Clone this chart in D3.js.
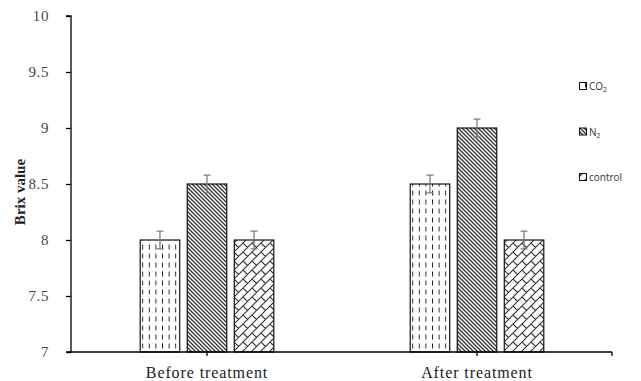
<!DOCTYPE html>
<html>
<head>
<meta charset="utf-8">
<script src="https://cdn.jsdelivr.net/npm/d3@7"></script>
<style>
  html, body { margin: 0; padding: 0; background: #fff; }
  svg { display: block; }
</style>
</head>
<body>
<svg id="chart" width="641" height="381"></svg>
<script>
// Brix value before and after treatment, by storage atmosphere
const categories = ["Before treatment", "After treatment"];
const seriesNames = ["CO2", "N2", "control"];
const seriesLabels = [["CO", "2"], ["N", "2"], ["control", ""]];
const co2Values = [8.0, 8.5];
const n2Values = [8.5, 9.0];
const controlValues = [8.0, 8.0];
const errorValues = [0.08, 0.08, 0.08];
const yTicks = [7, 7.5, 8, 8.5, 9, 9.5, 10];

const seriesValues = [co2Values, n2Values, controlValues];

const svg = d3.select("#chart");
const defs = svg.append("defs");

// Fill patterns: dashed verticals, dense diagonals, shingles
const pDash = defs.append("pattern").attr("id", "pat-co2")
  .attr("patternUnits", "userSpaceOnUse").attr("width", 6.6).attr("height", 9)
  .attr("x", 140).attr("y", 0);
pDash.append("rect").attr("width", 6.6).attr("height", 9).attr("fill", "#fff");
pDash.append("line").attr("x1", 3.3).attr("x2", 3.3).attr("y1", 1.5).attr("y2", 6.5)
  .attr("stroke", "#222").attr("stroke-width", 1);

const pDiag = defs.append("pattern").attr("id", "pat-n2")
  .attr("patternUnits", "userSpaceOnUse").attr("width", 4).attr("height", 4);
pDiag.append("rect").attr("width", 4).attr("height", 4).attr("fill", "#fff");
pDiag.append("path").attr("d", "M-1,-1 L5,5 M-1,3 L1,5 M3,-1 L5,1")
  .attr("stroke", "#333").attr("stroke-width", 1.3);

const pShingle = defs.append("pattern").attr("id", "pat-control")
  .attr("patternUnits", "userSpaceOnUse").attr("width", 9).attr("height", 9);
pShingle.append("rect").attr("width", 9).attr("height", 9).attr("fill", "#fff");
pShingle.append("path").attr("d", "M0,9 L9,0 M0,0 L4.5,4.5 M-1,1 L1,-1 M8,10 L10,8")
  .attr("stroke", "#333").attr("stroke-width", 1.1).attr("fill", "none");

const patternIds = ["pat-co2", "pat-n2", "pat-control"];

const y = d3.scaleLinear().domain([7, 10]).range([352, 16]);
const x0 = d3.scaleBand().domain(categories).range([72, 612]).padding(0);
const x1 = d3.scaleBand().domain(seriesNames).range([0, x0.bandwidth()])
  .paddingInner(0.16).paddingOuter(1.45);

const serif = "'Liberation Serif', 'Times New Roman', serif";

// Y axis
const yAxis = svg.append("g").attr("transform", "translate(71,0)")
  .call(d3.axisLeft(y).tickValues(yTicks).tickSize(5).tickPadding(17)
    .tickFormat(d => String(d)));
yAxis.select(".domain").attr("stroke", "#000").attr("stroke-width", 1.3)
  .attr("d", `M-5,${y(10)}H0V${y(7)}H-5`);
yAxis.selectAll(".tick line").attr("stroke", "#000").attr("stroke-width", 1.3);
yAxis.selectAll(".tick text").attr("font-family", serif)
  .attr("font-size", 15).attr("letter-spacing", 0.6).attr("fill", "#444");

// Bars
const groups = svg.append("g").selectAll("g").data(categories).join("g")
  .attr("transform", d => `translate(${x0(d)},0)`);

groups.each(function(cat, ci) {
  const g = d3.select(this);
  seriesNames.forEach((s, si) => {
    const v = seriesValues[si][ci];
    g.append("rect")
      .attr("x", x1(s)).attr("y", y(v))
      .attr("width", x1.bandwidth()).attr("height", y(7) - y(v))
      .attr("fill", `url(#${patternIds[si]})`)
      .attr("stroke", "#111").attr("stroke-width", 1.2);
    const cx = x1(s) + x1.bandwidth() / 2;
    const e = errorValues[si];
    g.append("path")
      .attr("d", `M${cx - 3.5},${y(v + e)}H${cx + 3.5}M${cx},${y(v + e)}V${y(v - e)}M${cx - 3.5},${y(v - e)}H${cx + 3.5}`)
      .attr("stroke", "#7f7f7f").attr("stroke-width", 1.3).attr("fill", "none");
  });
});

// X axis
const xAxisG = svg.append("g").attr("transform", `translate(0,${y(7)})`);
xAxisG.append("line").attr("x1", 71).attr("x2", 612).attr("stroke", "#000").attr("stroke-width", 1.3);
categories.forEach(c => {
  const cx = x0(c) + x0.bandwidth() / 2;
  xAxisG.append("line").attr("x1", cx).attr("x2", cx).attr("y1", 0).attr("y2", 4)
    .attr("stroke", "#000").attr("stroke-width", 1.3);
  xAxisG.append("text").attr("x", cx).attr("y", 26).attr("text-anchor", "middle")
    .attr("font-family", serif)
    .attr("font-size", 16).attr("letter-spacing", 0.9).attr("fill", "#222").text(c);
});
xAxisG.append("line").attr("x1", 612).attr("x2", 612).attr("y1", 0).attr("y2", 4)
  .attr("stroke", "#000").attr("stroke-width", 1.3);

// Y axis title
svg.append("text")
  .attr("transform", `translate(25,${y(8.5) + 8}) rotate(-90)`)
  .attr("text-anchor", "middle")
  .attr("font-family", serif)
  .attr("font-weight", "bold").attr("font-size", 15).attr("fill", "#222")
  .text("Brix value");

// Legend
const legendY = d3.scalePoint().domain(seriesNames).range([86, 177]);
const legend = svg.append("g");
seriesNames.forEach((s, i) => {
  const ly = legendY(s);
  legend.append("rect").attr("x", 579.5).attr("y", ly - 3.5).attr("width", 7).attr("height", 7)
    .attr("fill", `url(#${patternIds[i]})`).attr("stroke", "#111").attr("stroke-width", 1);
  const t = legend.append("text").attr("x", 589).attr("y", ly + 4)
    .attr("font-family", "'Open Sans', 'Liberation Sans', sans-serif")
    .attr("font-size", 10).attr("fill", "#333");
  t.append("tspan").text(seriesLabels[i][0]);
  if (seriesLabels[i][1]) {
    t.append("tspan").attr("font-size", 7).attr("dy", 2).text(seriesLabels[i][1]);
  }
});
</script>
</body>
</html>
